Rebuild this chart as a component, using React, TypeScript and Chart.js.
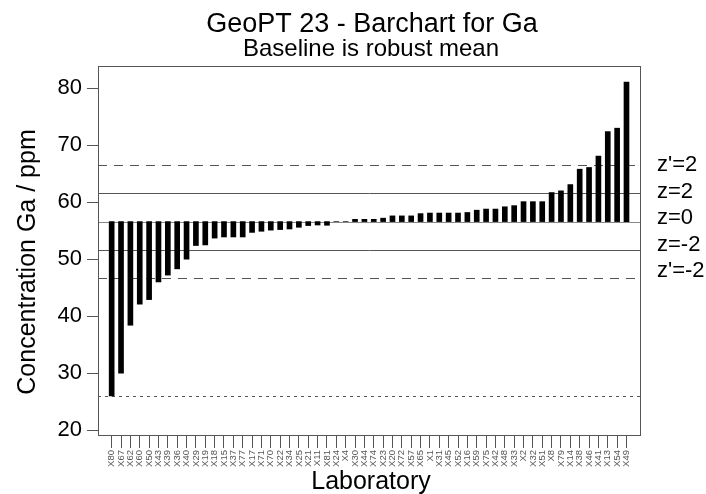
import { useEffect, useRef } from 'react';
import { Chart, registerables } from 'chart.js';

Chart.register(...registerables);

const FONT = '"Liberation Sans", Arial, Helvetica, sans-serif';

const labs = [
  'X80', 'X67', 'X62', 'X60', 'X50', 'X43', 'X39', 'X36', 'X40', 'X29',
  'X19', 'X18', 'X15', 'X37', 'X77', 'X17', 'X71', 'X70', 'X22', 'X34',
  'X25', 'X21', 'X11', 'X81', 'X24', 'X4', 'X30', 'X44', 'X74', 'X23',
  'X20', 'X72', 'X57', 'X65', 'X1', 'X31', 'X45', 'X52', 'X16', 'X59',
  'X75', 'X42', 'X48', 'X33', 'X2', 'X32', 'X51', 'X8', 'X79', 'X14',
  'X38', 'X46', 'X41', 'X13', 'X54', 'X49',
];

const values = [
  26.0, 30.0, 38.4, 42.1, 42.9, 46.0, 47.2, 48.3, 50.0, 52.4,
  52.5, 53.7, 53.9, 53.9, 53.9, 54.7, 54.9, 55.1, 55.2, 55.3,
  55.6, 55.9, 56.0, 55.95, 56.6, 56.6, 57.0, 57.0, 57.0, 57.2,
  57.6, 57.6, 57.6, 58.0, 58.1, 58.1, 58.1, 58.1, 58.2, 58.6,
  58.8, 58.8, 59.2, 59.4, 60.1, 60.1, 60.1, 61.7, 62.0, 63.1,
  65.8, 66.1, 68.1, 72.4, 73.0, 81.1,
];

const baseline = 56.6;
const yTicks = [20, 30, 40, 50, 60, 70, 80];

const zLabels = ["z'=2", 'z=2', 'z=0', 'z=-2', "z'=-2"];
const zValues = [66.53, 61.58, 56.6, 51.68, 46.73];
const lowerLimit = 26.0;

export default function App() {
  const ref = useRef<HTMLCanvasElement>(null);

  useEffect(() => {
    document.body.style.margin = '0';
    const canvas = ref.current;
    if (!canvas) return;

    const refPlugin = {
      id: 'refLines',
      beforeDatasetsDraw(chart: any) {
        const { ctx, chartArea, scales } = chart;
        const y = scales.y;
        const line = (v: number, dash: number[], color: string) => {
          const py = Math.round(y.getPixelForValue(v)) + 0.5;
          ctx.save();
          ctx.strokeStyle = color;
          ctx.lineWidth = 1;
          ctx.setLineDash(dash);
          ctx.beginPath();
          ctx.moveTo(chartArea.left, py);
          ctx.lineTo(chartArea.right, py);
          ctx.stroke();
          ctx.restore();
        };
        zValues.forEach((v, i) => {
          const dashed = i === 0 || i === 4;
          line(v, dashed ? [9, 7] : [], i === 2 ? '#888' : '#555');
        });
        line(lowerLimit, [3, 4], '#555');
      },
      afterDraw(chart: any) {
        const { ctx, chartArea } = chart;
        ctx.save();
        ctx.strokeStyle = '#555';
        ctx.lineWidth = 1;
        ctx.strokeRect(
          Math.round(chartArea.left) + 0.5,
          Math.round(chartArea.top) + 0.5,
          Math.round(chartArea.right - chartArea.left) - 1,
          Math.round(chartArea.bottom - chartArea.top) - 1,
        );
        ctx.fillStyle = '#000';
        ctx.textAlign = 'center';
        ctx.textBaseline = 'alphabetic';
        ctx.font = `27px ${FONT}`;
        ctx.fillText('GeoPT 23 - Barchart for Ga', 372, 32);
        ctx.font = `24px ${FONT}`;
        ctx.fillText('Baseline is robust mean', 371, 56);
        ctx.font = `25px ${FONT}`;
        ctx.fillText('Laboratory', 371, 489);
        ctx.save();
        ctx.translate(35, 262);
        ctx.rotate(-Math.PI / 2);
        ctx.fillText('Concentration Ga / ppm', 0, 0);
        ctx.restore();
        ctx.textAlign = 'left';
        ctx.textBaseline = 'middle';
        ctx.font = `22px ${FONT}`;
        zLabels.forEach((t, i) => {
          ctx.fillText(t, 657, 165 + i * 26.6);
        });
        ctx.restore();
      },
    };

    const chart = new Chart(canvas, {
      type: 'bar',
      data: {
        datasets: [
          {
            data: values.map((v, i) => ({ x: i, y: [baseline, v] })) as any,
            backgroundColor: '#000',
            borderWidth: 0,
            barThickness: 5,
          },
        ],
      },
      options: {
        responsive: false,
        animation: false,
        devicePixelRatio: 1,
        layout: { padding: { top: 66, right: 65, left: 0, bottom: 0 } },
        plugins: { legend: { display: false }, tooltip: { enabled: false } },
        scales: {
          x: {
            type: 'linear',
            min: -1.46,
            max: 56.55,
            offset: false,
            afterBuildTicks: (s: any) => {
              s.ticks = labs.map((_, i) => ({ value: i }));
            },
            afterFit: (s: any) => {
              s.height = 58;
            },
            ticks: {
              autoSkip: false,
              maxRotation: 90,
              minRotation: 90,
              padding: 2,
              color: '#555',
              font: { family: FONT, size: 9.5 },
              callback: (v: any) => labs[v as number] ?? '',
            },
            grid: { drawOnChartArea: false, drawTicks: true, tickLength: 12, color: '#555', offset: false },
            border: { display: false },
          },
          y: {
            type: 'linear',
            min: 18.95,
            max: 83.92,
            afterBuildTicks: (s: any) => {
              s.ticks = yTicks.map((v) => ({ value: v }));
            },
            afterFit: (s: any) => {
              s.width = 98;
            },
            ticks: {
              color: '#000',
              padding: 5,
              font: { family: FONT, size: 22 },
            },
            grid: { drawOnChartArea: false, drawTicks: true, tickLength: 11, color: '#555' },
            border: { display: false },
          },
        },
      },
      plugins: [refPlugin],
    } as any);

    return () => chart.destroy();
  }, []);

  return <canvas ref={ref} width={706} height={494} style={{ display: 'block' }} />;
}
